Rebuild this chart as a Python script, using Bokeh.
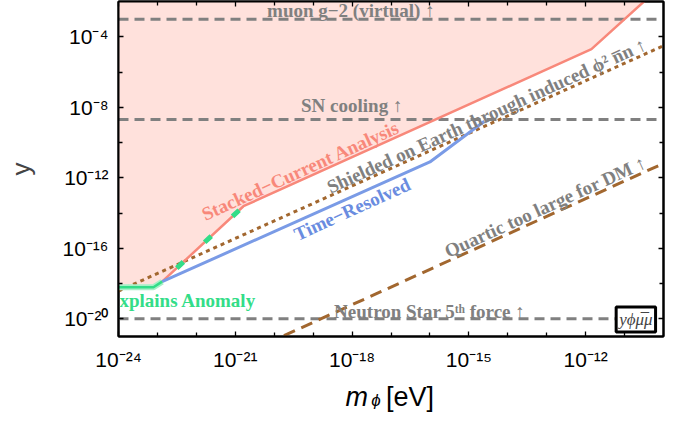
import numpy as np
from bokeh.plotting import figure
from bokeh.layouts import column
from bokeh.models import FixedTicker, LogAxis, Label
from bokeh.core.properties import value
from bokeh.embed import file_html
from bokeh.resources import INLINE

# ---------------- data ----------------
x_major = [1e-24, 1e-21, 1e-18, 1e-15, 1e-12]
x_minor = [1e-23, 1e-22, 1e-20, 1e-19, 1e-17, 1e-16, 1e-14, 1e-13, 1e-11]
x_labels = ["10⁻²⁴", "10⁻²¹", "10⁻¹⁸", "10⁻¹⁵", "10⁻¹²"]
y_major = [1e-20, 1e-16, 1e-12, 1e-8, 1e-4]
y_minor = [1e-18, 1e-14, 1e-10, 1e-6]
y_labels = ["10⁻²⁰", "10⁻¹⁶", "10⁻¹²", "10⁻⁸", "10⁻⁴"]

# Stacked-Current Analysis boundary (excluded region above)
stacked_m = [1e-24, 7.9e-24, 1.32e-23, 1.62e-21, 1.41e-12, 1e-10]
stacked_y = [6.2e-19, 6.2e-19, 1.29e-18, 2.45e-14, 2.0e-5, 1e-1]

# Time-Resolved
tr_m = [1.32e-23, 1.0e-16, 2.5e-15]
tr_y = [1.29e-18, 7.9e-12, 1.6e-9]

# Explains Anomaly (solid part and dashed part)
an_m = [1e-24, 7.9e-24, 1.32e-23]
an_y = [6.2e-19, 6.2e-19, 1.29e-18]
ad_m = [1.32e-23, 1.26e-21]
ad_y = [1.29e-18, 1.45e-14]

# Shielded on Earth (dotted)
sh_m = [1e-24, 1e-10]
sh_y = [3.8e-19, 3.1e-5]

# Quartic too large for DM (dashed)
q_m = [1.78e-20, 7.6e-11]
q_y = [1.12e-21, 5.0e-12]

# horizontal bounds
muon_y = 1e-3
sn_y = 2.0e-9
ns_y = 1e-20

X_RANGE = (1e-24, 1e-10)
Y_RANGE = (1e-21, 1e-2)

W = 680

# ---------------- figure ----------------
p = figure(width=W, height=376, x_axis_type="log", y_axis_type="log",
           x_range=X_RANGE, y_range=Y_RANGE, output_backend="svg",
           toolbar_location=None, min_border_left=118, min_border_right=17,
           min_border_top=1, min_border_bottom=40)
p.grid.visible = False
p.outline_line_color = "black"
p.outline_line_width = 2
p.background_fill_color = "white"

GRAY = "#808080"
BROWN = "#A2672F"
SALMON = "#F8887A"
BLUE = "#7A9BE6"
GREEN = "#33DD88"
SERIF = value("Liberation Serif")
ANG = np.deg2rad(24.5)

# pink excluded region
p.patch(x=stacked_m + [X_RANGE[1], X_RANGE[0]], y=stacked_y + [1.0, 1.0],
        fill_color="#FFE1DC", line_color=None)

# horizontal dashed limits
for yy in (muon_y, sn_y, ns_y):
    p.line(x=list(X_RANGE), y=[yy, yy], line_color=GRAY, line_width=3,
           line_dash="10 6")

# dotted shielded line
p.line(x=sh_m, y=sh_y, line_color=BROWN, line_width=3, line_dash="4 4")
# quartic dashed line
p.line(x=q_m, y=q_y, line_color=BROWN, line_width=3, line_dash="12 7")

# stacked boundary
p.line(x=stacked_m, y=stacked_y, line_color=SALMON, line_width=2.5)
# time resolved
p.line(x=tr_m, y=tr_y, line_color=BLUE, line_width=3)
# explains anomaly
p.line(x=an_m, y=an_y, line_color="#A8F0C8", line_width=6)
p.line(x=an_m, y=an_y, line_color=GREEN, line_width=2.5)
p.line(x=ad_m, y=ad_y, line_color=GREEN, line_width=5, line_dash="9 29",
       line_dash_offset=18)

# ---------------- text labels ----------------
def txt(fig, x, y, s, color, angle=0.0, align="center", size="19px",
        style="bold", font=SERIF, baseline="middle"):
    fig.text(x=[x], y=[y], text=[s], angle=angle, text_font=font,
             text_font_style=style, text_font_size=size, text_color=color,
             text_align=align, text_baseline=baseline)

txt(p, 9.3e-19, 3.1e-3, "muon g\u22122 (virtual) \u2191", GRAY)
txt(p, 9.8e-19, 1.26e-8, "SN cooling \u2191", GRAY)
txt(p, 9.8e-17, 2.63e-20, "Neutron Star 5\u1d57\u02b0 force \u2191", GRAY)
txt(p, 4.73e-20, 2.57e-12, "Stacked\u2212Current Analysis", SALMON, ANG)
txt(p, 2.82e-15, 3.39e-9, "Shielded on Earth through induced \u03d5\u00b2 n\u0305n \u2191", GRAY, ANG)
txt(p, 1e-18, 1.66e-14, "Time\u2212Resolved", "#6A8CE0", ANG)
txt(p, 9.12e-14, 2.29e-14, "Quartic too large for DM \u2191", GRAY, ANG)
txt(p, 5.0e-25, 1.1e-19, "Explains Anomaly", GREEN, 0.0, "left")

p.add_layout(Label(x=1.95e-11, y=9.1e-21, text="y\u03d5\u03bc\u0305\u03bc",
                   text_font="Liberation Serif", text_font_style="italic",
                   text_font_size="17px", text_align="center",
                   text_baseline="middle", border_line_color="black",
                   border_line_width=3, background_fill_color="white",
                   padding=3))

# ---------------- axes ----------------
def style_axis(ax, ticks, minors, labels=None):
    ax.ticker = FixedTicker(ticks=ticks, minor_ticks=minors)
    ax.axis_line_color = "black"
    ax.axis_line_width = 2
    ax.major_tick_in = 5
    ax.major_tick_out = 0
    ax.minor_tick_in = 4
    ax.minor_tick_out = 0
    ax.major_tick_line_width = 1.3
    ax.minor_tick_line_width = 1.3
    if labels is None:
        ax.major_label_overrides = {t: " " for t in ticks}
        ax.major_label_text_font_size = "2px"
        ax.major_label_text_alpha = 0.0
        ax.major_label_standoff = 0
    else:
        ax.major_label_overrides = dict(zip(ticks, labels))
        ax.major_label_text_font = "Liberation Sans"
        ax.major_label_text_font_size = "21px"
        ax.major_label_text_color = "black"

style_axis(p.xaxis[0], x_major, x_minor, x_labels)
p.xaxis[0].major_label_standoff = 11
style_axis(p.yaxis[0], y_major, y_minor, y_labels)
p.yaxis[0].major_label_standoff = 10
p.yaxis[0].axis_label = "y"
p.yaxis[0].axis_label_text_font = "Liberation Sans"
p.yaxis[0].axis_label_text_font_style = "normal"
p.yaxis[0].axis_label_text_font_size = "26px"
p.yaxis[0].axis_label_standoff = 24

top_ax = LogAxis()
style_axis(top_ax, x_major, x_minor)
p.add_layout(top_ax, "above")
right_ax = LogAxis()
style_axis(right_ax, y_major, y_minor)
p.add_layout(right_ax, "right")

# ---------------- x axis title: m_phi [eV] (strip below the plot) ----------------
TH = 48
t = figure(width=W, height=TH, x_axis_type="log", x_range=p.x_range,
           y_range=(0, TH), output_backend="svg", toolbar_location=None,
           x_axis_location=None, y_axis_location=None,
           min_border_left=118, min_border_right=17, min_border_top=0,
           min_border_bottom=0, title=None)
t.grid.visible = False
t.outline_line_color = None
SANS = value("Liberation Sans")
txt(t, 6.8e-19, 28, "m", "black", 0.0, "left", "27px", "italic", SANS, "alphabetic")
txt(t, 3.1e-18, 24, "\u03d5", "black", 0.0, "left", "17px", "italic", SANS, "alphabetic")
txt(t, 7.4e-18, 28, "[eV]", "black", 0.0, "left", "27px", "normal", SANS, "alphabetic")

open("out.html", "w").write(file_html(column(p, t, spacing=0), INLINE))
